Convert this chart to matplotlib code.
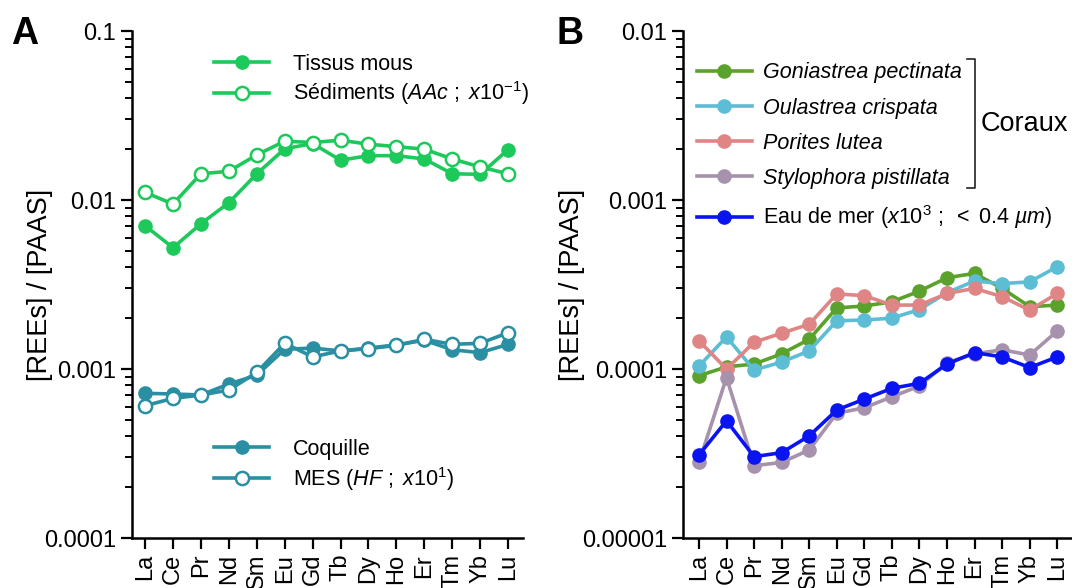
import numpy as np
import matplotlib
matplotlib.use("Agg")
import matplotlib.pyplot as plt
from matplotlib import ticker

plt.rcParams['font.family'] = ['Liberation Sans', 'DejaVu Sans']
plt.rcParams['mathtext.fontset'] = 'custom'
plt.rcParams['mathtext.rm'] = 'Liberation Sans'
plt.rcParams['mathtext.it'] = 'Liberation Sans:italic'

rees = ["La", "Ce", "Pr", "Nd", "Sm", "Eu", "Gd", "Tb", "Dy", "Ho", "Er", "Tm", "Yb", "Lu"]

# panel A
tissus = [0.00705, 0.00522, 0.00724, 0.00964, 0.0143, 0.0201, 0.0216, 0.0172,
          0.0183, 0.0183, 0.0175, 0.0143, 0.0142, 0.0199]
sediments = [0.0111, 0.00947, 0.0143, 0.0148, 0.0185, 0.0223, 0.0219, 0.0226,
             0.0214, 0.0207, 0.0200, 0.0175, 0.0157, 0.0143]
coquille = [0.000718, 0.000712, 0.000702, 0.000815, 0.00092, 0.00131, 0.00133, 0.00128,
            0.00133, 0.00139, 0.00148, 0.0013, 0.00125, 0.0014]
mes = [0.000607, 0.00067, 0.000702, 0.000751, 0.000955, 0.00142, 0.00118, 0.00128,
       0.00132, 0.00138, 0.0015, 0.0014, 0.00142, 0.00164]

# panel B
goniastrea = [9.13e-5, 1.03e-4, 1.07e-4, 1.23e-4, 1.5e-4, 2.3e-4, 2.36e-4, 2.5e-4,
              2.89e-4, 3.47e-4, 3.68e-4, 3.0e-4, 2.34e-4, 2.39e-4]
oulastrea = [1.04e-4, 1.55e-4, 9.86e-5, 1.1e-4, 1.28e-4, 1.93e-4, 1.95e-4, 2.0e-4,
             2.25e-4, 2.83e-4, 3.32e-4, 3.2e-4, 3.28e-4, 4.03e-4]
porites = [1.47e-4, 1.0e-4, 1.44e-4, 1.63e-4, 1.84e-4, 2.78e-4, 2.72e-4, 2.39e-4,
           2.39e-4, 2.8e-4, 3.0e-4, 2.68e-4, 2.23e-4, 2.8e-4]
stylophora = [2.8e-5, 8.9e-5, 2.68e-5, 2.8e-5, 3.32e-5, 5.47e-5, 5.9e-5, 6.85e-5,
              7.93e-5, 1.09e-4, 1.23e-4, 1.3e-4, 1.21e-4, 1.68e-4]
eau_mer = [3.1e-5, 4.94e-5, 3.03e-5, 3.2e-5, 4.02e-5, 5.72e-5, 6.64e-5, 7.69e-5,
           8.23e-5, 1.07e-4, 1.25e-4, 1.18e-4, 1.02e-4, 1.18e-4]

green_a = "#1ec95c"
teal_a = "#2a8fa2"
c_gon = "#5aa22c"
c_oul = "#5dbdd4"
c_por = "#e08585"
c_sty = "#a692ad"
c_eau = "#0a14f0"

x = np.arange(len(rees))
fig = plt.figure(figsize=(10.72, 5.88), dpi=100)
axA = fig.add_axes([0.1231, 0.085, 0.3647, 0.8622])
axB = fig.add_axes([0.6371, 0.085, 0.3620, 0.8622])


def fmt_log(v, _):
    return np.format_float_positional(v, precision=6, trim='-')


def style_axis(ax, ylim, xlim, label_x):
    ax.set_yscale("log")
    ax.set_ylim(*ylim)
    ax.set_xlim(*xlim)
    for s in ["top", "right"]:
        ax.spines[s].set_visible(False)
    for s in ["left", "bottom"]:
        ax.spines[s].set_linewidth(1.8)
    ax.yaxis.set_major_locator(ticker.LogLocator(base=10, numticks=10))
    ax.yaxis.set_minor_locator(ticker.LogLocator(base=10, subs=np.arange(2, 10), numticks=20))
    ax.yaxis.set_minor_formatter(ticker.NullFormatter())
    ax.yaxis.set_major_formatter(ticker.FuncFormatter(fmt_log))
    ax.tick_params(axis="both", which="major", direction="out", length=8, width=1.6,
                   labelsize=17)
    ax.tick_params(axis="y", which="minor", direction="out", length=5, width=1.4)
    ax.set_xticks(x)
    ax.set_xticklabels(rees, rotation=90, fontsize=17)
    ax.set_ylabel("[REEs] / [PAAS]", fontsize=19.5)
    ax.yaxis.set_label_coords(label_x, 0.5)


style_axis(axA, (1e-4, 1e-1), (-0.47, 13.53), -0.201)
style_axis(axB, (1e-5, 1e-2), (-0.58, 13.5), -0.252)

lw = 2.6
ms = 9.5
axA.plot(x, tissus, color=green_a, lw=lw, marker="o", ms=ms, label="Tissus mous")
axA.plot(x, sediments, color=green_a, lw=lw, marker="o", ms=ms, mfc="white", mew=1.8,
         label=r"Sédiments ($\mathit{AAc\ {;}\ x10^{-1}}$)")
axA.plot(x, coquille, color=teal_a, lw=lw, marker="o", ms=ms, label="Coquille")
axA.plot(x, mes, color=teal_a, lw=lw, marker="o", ms=ms, mfc="white", mew=1.8,
         label=r"MES ($\mathit{HF\ {;}\ x10^{1}}$)")

leg_kw = dict(frameon=False, fontsize=15.5, handlelength=2.55, labelspacing=0.22,
              handletextpad=1.1, borderpad=0.2)
h, l = axA.get_legend_handles_labels()
legA1 = axA.legend(h[:2], l[:2], loc="upper left", bbox_to_anchor=(0.172, 0.985), **leg_kw)
axA.add_artist(legA1)
axA.legend(h[2:], l[2:], loc="upper left", bbox_to_anchor=(0.172, 0.225), **leg_kw)

axB.plot(x, goniastrea, color=c_gon, lw=lw, marker="o", ms=ms, label="Goniastrea pectinata")
axB.plot(x, oulastrea, color=c_oul, lw=lw, marker="o", ms=ms, label="Oulastrea crispata")
axB.plot(x, porites, color=c_por, lw=lw, marker="o", ms=ms, label="Porites lutea")
axB.plot(x, stylophora, color=c_sty, lw=lw, marker="o", ms=ms, label="Stylophora pistillata")
axB.plot(x, eau_mer, color=c_eau, lw=lw, marker="o", ms=ms,
         label=r"Eau de mer ($\mathit{x10^{3}\ {;}\ {<}\ 0.4\ µm}$)")

legB = axB.legend(loc="upper left", bbox_to_anchor=(-0.003, 0.968), frameon=False,
                  fontsize=15.5, handlelength=2.55, labelspacing=0.66, handletextpad=0.5,
                  borderpad=0.2)
for t in legB.get_texts()[:4]:
    t.set_fontstyle("italic")

# Coraux bracket
bx = 0.752
by0, by1 = 0.69, 0.945
axB.plot([bx - 0.02, bx, bx, bx - 0.02], [by1, by1, by0, by0], transform=axB.transAxes,
         color="#222222", lw=1.2, clip_on=False)
axB.text(bx + 0.015, (by0 + by1) / 2, "Coraux", transform=axB.transAxes, fontsize=19.5,
         va="center", ha="left")

fig.text(0.010, 0.972, "A", fontsize=27, fontweight="bold", va="top")
fig.text(0.519, 0.972, "B", fontsize=27, fontweight="bold", va="top")

fig.savefig("out.png", dpi=100)
